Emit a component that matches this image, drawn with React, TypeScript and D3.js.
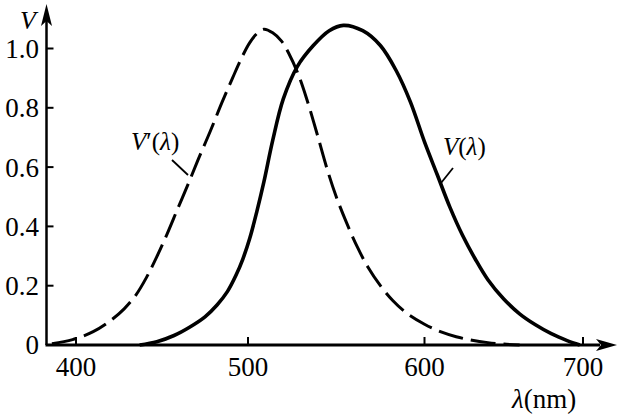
import React from 'react';
import * as d3 from 'd3';

// photopic V(λ): [wavelength nm, value]
const photopic: [number, number][] = [
  [437, 0], [447, 0.011], [457, 0.032], [466, 0.06], [475, 0.095], [482, 0.135],
  [488, 0.18], [493, 0.235], [497, 0.29], [501, 0.36], [505, 0.45], [509, 0.55],
  [514, 0.69], [520, 0.83], [528, 0.94], [537, 1.01], [546, 1.06], [554, 1.078],
  [565, 1.06], [575, 1.01], [584, 0.925], [592, 0.82], [600, 0.685], [608, 0.575],
  [616, 0.465], [624, 0.37], [632, 0.29], [640, 0.22], [650, 0.155], [660, 0.105],
  [670, 0.068], [680, 0.038], [690, 0.015], [698, 0],
];

// scotopic V'(λ)
const scotopic: [number, number][] = [
  [386, 0.004], [398, 0.018], [410, 0.045], [420, 0.082], [428, 0.122], [435, 0.17],
  [441, 0.228], [447, 0.298], [453, 0.375], [459, 0.458], [465, 0.54], [471, 0.625],
  [478, 0.72], [485, 0.82], [491, 0.9], [496, 0.965], [501, 1.02], [505, 1.05],
  [509, 1.065], [514, 1.053], [519, 1.025], [523, 0.985], [528, 0.92], [533, 0.835],
  [539, 0.715], [545, 0.59], [550, 0.5], [556, 0.41], [562, 0.33], [568, 0.262],
  [575, 0.2], [582, 0.15], [590, 0.107], [600, 0.07], [610, 0.045], [620, 0.028],
  [630, 0.016], [640, 0.008], [650, 0.003], [660, 0],
];

const xTicks = [400, 500, 600, 700];
const yTicks = [0, 0.2, 0.4, 0.6, 0.8, 1.0];

const W = 621;
const H = 418;
const font = '"Liberation Serif", "Times New Roman", serif';

export default function App() {
  // the printed axis is not quite even, so a piecewise scale
  const x = d3.scaleLinear().domain([400, 500, 600, 700]).range([76, 248, 424.5, 583]);
  const y = d3.scaleLinear().domain([0, 1]).range([345, 48.5]);
  const x0 = 46.5;
  const y0 = y(0);

  const line = d3.line<[number, number]>()
    .x(d => x(d[0]))
    .y(d => y(d[1]))
    .curve(d3.curveCatmullRom.alpha(0.5));

  return (
    <svg width={W} height={H} viewBox={`0 0 ${W} ${H}`}
      style={{ position: 'absolute', left: 0, top: 0, background: '#fff' }}>
      {/* axes */}
      <line x1={x0} y1={y0} x2={x0} y2={20} stroke="#000" strokeWidth={2.5} />
      <path d={`M${x0},4 L${x0 - 5.5},26 L${x0},21 L${x0 + 5.5},26 Z`} fill="#000" />
      <line x1={x0 - 1} y1={y0} x2={600} y2={y0} stroke="#000" strokeWidth={2.8} />
      <path d={`M617,${y0} L596,${y0 - 6} L601,${y0} L596,${y0 + 6} Z`} fill="#000" />

      {yTicks.filter(t => t > 0).map(t => (
        <line key={t} x1={x0} x2={x0 + 7} y1={y(t)} y2={y(t)} stroke="#000" strokeWidth={2} />
      ))}
      {xTicks.map(t => (
        <line key={t} x1={x(t)} x2={x(t)} y1={y0} y2={y0 - 8} stroke="#000" strokeWidth={2} />
      ))}

      <g fontFamily={font} fontSize={27} fill="#000">
        {yTicks.map(t => (
          <text key={t} x={39} y={y(t)} dy="0.35em" textAnchor="end">
            {t === 0 ? '0' : d3.format('.1f')(t)}
          </text>
        ))}
        {xTicks.map(t => (
          <text key={t} x={x(t)} y={376} textAnchor="middle">{t}</text>
        ))}
        <text x={20} y={29} fontStyle="italic" fontSize={26}>V</text>
        <text x={512} y={408} fontSize={27}>
          <tspan fontStyle="italic">λ</tspan>(nm)
        </text>
        <text x={131} y={150} fontSize={25}>
          <tspan fontStyle="italic">V</tspan>′(<tspan fontStyle="italic">λ</tspan>)
        </text>
        <text x={443} y={155} fontSize={25}>
          <tspan fontStyle="italic">V</tspan>(<tspan fontStyle="italic">λ</tspan>)
        </text>
      </g>

      {/* leader lines */}
      <line x1={172} y1={160} x2={188} y2={175} stroke="#000" strokeWidth={1.8} />
      <line x1={453} y1={168} x2={441} y2={183} stroke="#000" strokeWidth={1.8} />

      <path d={line(scotopic) ?? ''} fill="none" stroke="#000" strokeWidth={3}
        strokeDasharray="25 8" />
      <path d={line(photopic) ?? ''} fill="none" stroke="#000" strokeWidth={3.6} />
    </svg>
  );
}
